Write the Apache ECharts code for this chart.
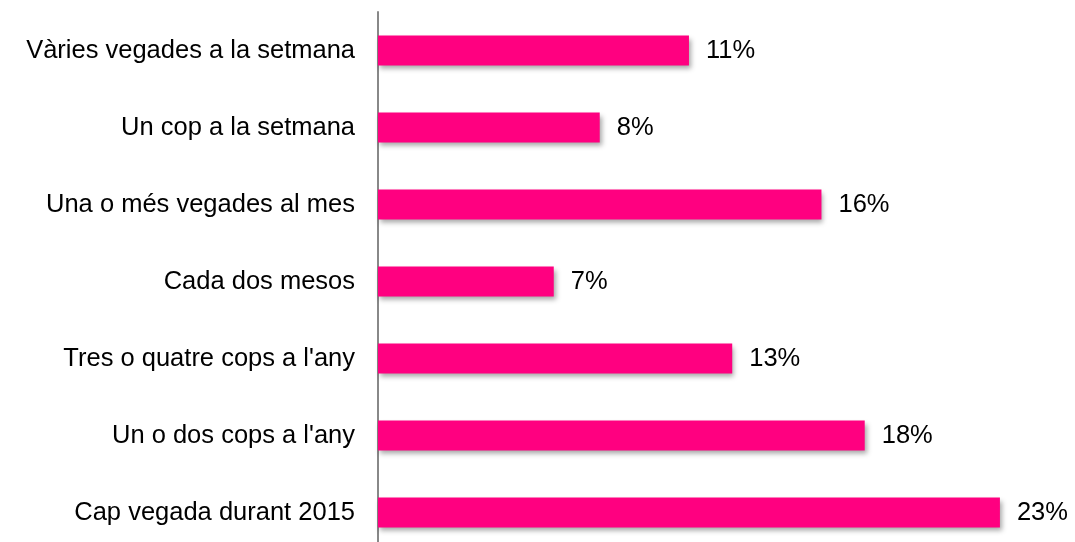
<!DOCTYPE html>
<html>
<head>
<meta charset="utf-8">
<script src="https://cdn.jsdelivr.net/npm/echarts@6/dist/echarts.min.js"></script>
<style>
html, body { margin: 0; padding: 0; background: #fff; overflow: hidden; }
/* the plot runs a few pixels past the bottom edge, like the original */
#chart { width: 1075px; height: 551px; }
</style>
</head>
<body>
<div id="chart"></div>
<script>
// categories top to bottom
var categories = [
  "Vàries vegades a la setmana",
  "Un cop a la setmana",
  "Una o més vegades al mes",
  "Cada dos mesos",
  "Tres o quatre cops a l'any",
  "Un o dos cops a l'any",
  "Cap vegada durant 2015"
];
// bar lengths (percent)
var values = [11.5, 8.2, 16.4, 6.5, 13.1, 18.0, 23.0];
// labels as printed
var labels = ["11%", "8%", "16%", "7%", "13%", "18%", "23%"];

var chart = echarts.init(document.getElementById("chart"));

var option = {
  animation: false,
  grid: {
    left: 378,
    top: 12,
    right: 21,
    bottom: 0
  },
  xAxis: {
    type: "value",
    min: 0,
    max: 25,
    show: false
  },
  yAxis: {
    type: "category",
    inverse: true,
    data: categories,
    axisLine: { show: true, lineStyle: { color: "#888888", width: 2 } },
    axisTick: { show: false },
    axisLabel: {
      margin: 23,
      fontFamily: "Liberation Sans",
      fontSize: 25.5,
      color: "#000"
    }
  },
  series: [
    {
      type: "bar",
      data: values,
      barWidth: 30,
      itemStyle: {
        color: "#FF0080",
        shadowColor: "rgba(0,0,0,0.35)",
        shadowBlur: 5,
        shadowOffsetX: 2,
        shadowOffsetY: 3
      },
      label: {
        show: true,
        position: "right",
        distance: 17,
        fontFamily: "Liberation Sans",
        fontSize: 25.5,
        color: "#000",
        formatter: function (p) { return labels[p.dataIndex]; }
      }
    }
  ]
};

chart.setOption(option);
</script>
</body>
</html>
